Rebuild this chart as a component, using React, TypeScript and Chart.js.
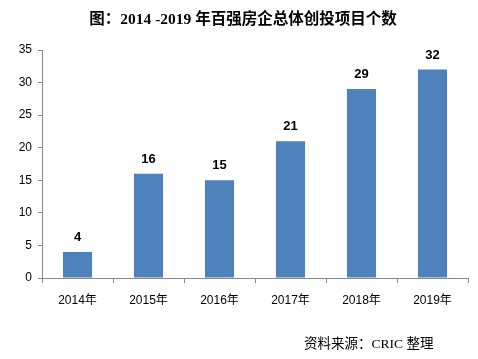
import React, { useEffect, useRef } from "react";
import { Chart, registerables } from "chart.js";

Chart.register(...registerables);

const categories = ["2014年", "2015年", "2016年", "2017年", "2018年", "2019年"];
const values = [4, 16, 15, 21, 29, 32];
const titleText = "图：2014 -2019 年百强房企总体创投项目个数";
const sourceText = "资料来源：CRIC 整理";

const labelPlugin = {
  id: "extras",
  afterDatasetsDraw(chart: any) {
    const ctx = chart.ctx;
    const meta = chart.getDatasetMeta(0);
    ctx.save();
    ctx.fillStyle = "#000";
    ctx.font = "bold 13px 'Liberation Sans', Arial, sans-serif";
    ctx.textAlign = "center";
    ctx.textBaseline = "bottom";
    meta.data.forEach((bar: any, i: number) => {
      ctx.fillText(String(values[i]), bar.x, bar.y - 8);
    });
    ctx.font = "bold 15.5px 'Liberation Serif', 'Noto Sans CJK SC', serif";
    ctx.textBaseline = "middle";
    ctx.fillText(titleText, 243, 20);
    ctx.font = "13.5px 'Liberation Serif', 'Noto Sans CJK SC', serif";
    ctx.textAlign = "left";
    ctx.fillText(sourceText, 304, 344);
    ctx.restore();
  },
};

export default function App() {
  const ref = useRef<HTMLCanvasElement>(null);
  useEffect(() => {
    const chart = new Chart(ref.current!, {
      type: "bar",
      data: {
        labels: categories,
        datasets: [
          {
            data: values,
            backgroundColor: "#4F81BD",
            categoryPercentage: 1,
            barPercentage: 0.41,
          },
        ],
      },
      options: {
        animation: false,
        responsive: false,
        layout: { padding: { left: 8, right: 10, top: 50, bottom: 41 } },
        plugins: { legend: { display: false }, tooltip: { enabled: false } },
        scales: {
          x: {
            grid: { display: true, drawOnChartArea: false, tickLength: 5, color: "#888", offset: true },
            border: { color: "#888" },
            ticks: { color: "#000", padding: 10, font: { size: 12, family: "'Liberation Sans', 'Noto Sans CJK SC', sans-serif" } },
            afterFit(scale: any) { scale.height = 40; },
          },
          y: {
            min: 0,
            max: 35,
            ticks: { stepSize: 5, color: "#000", padding: 6, font: { size: 12, family: "'Liberation Sans', Arial, sans-serif" } },
            grid: { display: true, drawOnChartArea: false, tickLength: 4, color: "#888" },
            border: { color: "#888" },
            afterFit(scale: any) { scale.width = 34; },
          },
        },
      },
      plugins: [labelPlugin],
    });
    return () => chart.destroy();
  }, []);
  return (
    <div style={{ position: "fixed", left: 0, top: 0, width: 478, height: 359, background: "#fff" }}>
      <canvas ref={ref} width={478} height={359} style={{ width: 478, height: 359 }} />
    </div>
  );
}
